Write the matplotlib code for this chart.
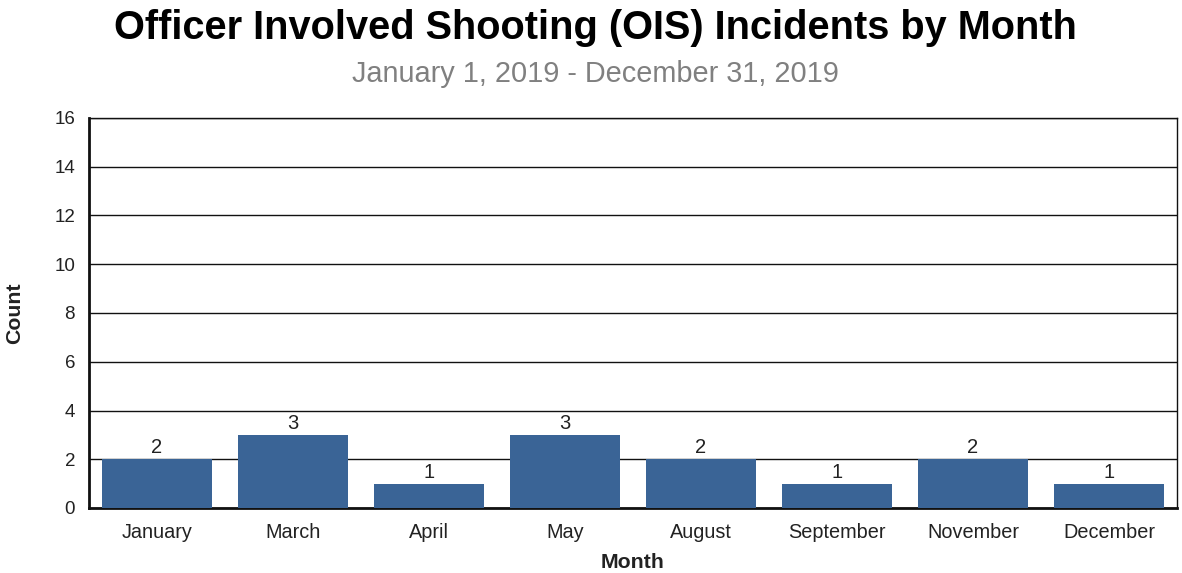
import matplotlib
matplotlib.use("Agg")
import matplotlib.pyplot as plt

months = ["January", "March", "April", "May", "August", "September", "November", "December"]
counts = [2, 3, 1, 3, 2, 1, 2, 1]
yticks = [0, 2, 4, 6, 8, 10, 12, 14, 16]

plt.rcParams['font.family'] = ['Liberation Sans', 'DejaVu Sans']

fig = plt.figure(figsize=(11.82, 5.73), dpi=100)
ax = fig.add_axes([89/1182, 1 - 508/573, (1177-89)/1182, (508-118)/573])

x = list(range(len(months)))
bars = ax.bar(x, counts, width=0.815, color="#3A6496", zorder=3)
for xi, c in zip(x, counts):
    ax.annotate(str(c), (xi, c), xytext=(0, 1.5), textcoords="offset points",
                ha="center", va="bottom", fontsize=14.5, color="#222222", zorder=4)

ax.set_xlim(-0.5, len(months) - 0.5)
ax.set_ylim(0, 16)
ax.set_yticks(yticks)
ax.set_xticks(x)
ax.set_xticklabels(months)
ax.tick_params(axis="y", length=0, labelsize=13.5, colors="#222222", pad=10)
ax.tick_params(axis="x", length=0, labelsize=14.3, colors="#222222", pad=11)
ax.yaxis.grid(True, color="#111111", linewidth=1.0, zorder=0)
ax.set_axisbelow(True)
for s in ["top", "right"]:
    ax.spines[s].set_linewidth(1.0)
    ax.spines[s].set_color("#111111")
for s in ["left", "bottom"]:
    ax.spines[s].set_linewidth(2.0)
    ax.spines[s].set_color("#111111")

ax.set_ylabel("Count", fontsize=15.3, fontweight="bold", color="#222222", labelpad=22)
ax.set_xlabel("Month", fontsize=15.3, fontweight="bold", color="#222222", labelpad=8)

fig.text(595/1182, 1 - 28/573, "Officer Involved Shooting (OIS) Incidents by Month",
         ha="center", va="center", fontsize=28.6, fontweight="bold", color="#000000")
fig.text(595/1182, 1 - 74/573, "January 1, 2019 - December 31, 2019",
         ha="center", va="center", fontsize=20.8, color="#808080")

fig.savefig("out.png", dpi=100)
